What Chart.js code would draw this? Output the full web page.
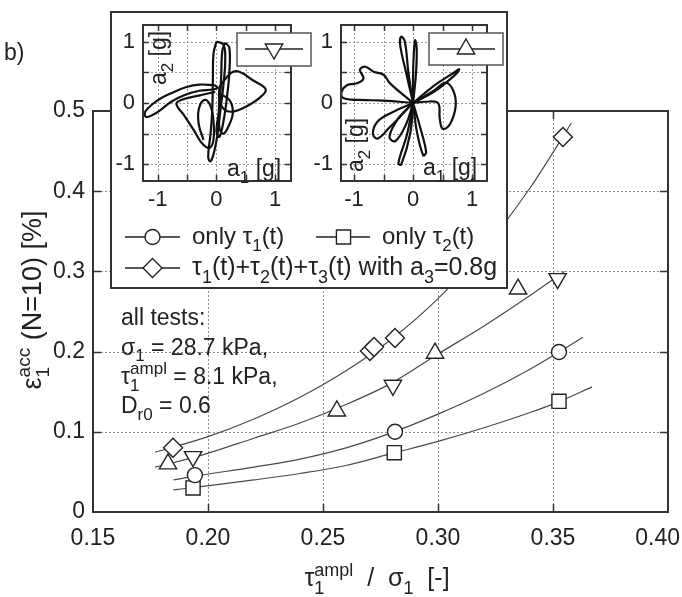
<!DOCTYPE html>
<html>
<head>
<meta charset="utf-8">
<script src="https://cdn.jsdelivr.net/npm/chart.js@4.4.1/dist/chart.umd.min.js"></script>
<style>
body { margin: 0; background: #fff; }
#wrap { position: relative; width: 682px; height: 597px; }
canvas { position: absolute; }
</style>
</head>
<body>
<div id="wrap">
<canvas id="main" width="682" height="597" style="left:0;top:0"></canvas>
<canvas id="in1" width="200" height="200" style="left:113px;top:14px"></canvas>
<canvas id="in2" width="200" height="200" style="left:313px;top:14px"></canvas>
</div>
<script>
// axes
const xTicks = [0.15, 0.20, 0.25, 0.30, 0.35, 0.40];
const xTickLabels = ['0.15', '0.20', '0.25', '0.30', '0.35', '0.40'];
const yTicks = [0, 0.1, 0.2, 0.3, 0.4, 0.5];
const yTickLabels = ['0', '0.1', '0.2', '0.3', '0.4', '0.5'];

// measured points
const circX = [0.1943, 0.2813, 0.3526];
const circY = [0.046, 0.100, 0.1995];
const sqX = [0.1935, 0.281, 0.3526];
const sqY = [0.030, 0.074, 0.138];
const diaX = [0.1848, 0.2704, 0.2722, 0.2813, 0.3543];
const diaY = [0.080, 0.2007, 0.2057, 0.217, 0.4676];
const upX = [0.1826, 0.256, 0.2987, 0.3348];
const upY = [0.060, 0.126, 0.198, 0.278];
const downX = [0.1935, 0.2804, 0.352];
const downY = [0.069, 0.158, 0.291];

// fitted curves
const circFitX = [0.185, 0.195, 0.22, 0.24, 0.26, 0.28, 0.30, 0.32, 0.34, 0.353, 0.363];
const circFitY = [0.040, 0.045, 0.056, 0.066, 0.080, 0.099, 0.122, 0.148, 0.178, 0.200, 0.218];
const sqFitX = [0.185, 0.195, 0.22, 0.24, 0.26, 0.28, 0.30, 0.32, 0.34, 0.353, 0.367];
const sqFitY = [0.0275, 0.031, 0.040, 0.048, 0.058, 0.073, 0.088, 0.105, 0.124, 0.138, 0.156];
const diaFitX = [0.177, 0.20, 0.22, 0.24, 0.26, 0.28, 0.30, 0.32, 0.34, 0.358];
const diaFitY = [0.0745, 0.094, 0.116, 0.143, 0.176, 0.216, 0.266, 0.328, 0.404, 0.485];
const triFitX = [0.177, 0.195, 0.22, 0.24, 0.26, 0.28, 0.30, 0.32, 0.34, 0.355];
const triFitY = [0.056, 0.069, 0.092, 0.111, 0.134, 0.161, 0.197, 0.232, 0.270, 0.300];

// inset axes
const insetTicks = [-1, -0.5, 0, 0.5, 1];
const insetTickLabels = ['-1', '', '0', '', '1'];

// inset traces a1/a2 [g], test with down triangle
const tracesDown = [
  [[-0.03,0.29],[-0.29,0.30],[-0.51,0.26],[-0.77,0.16],[-0.99,0.05],[-1.17,-0.09],[-1.22,-0.17],[-1.19,-0.23],[-0.99,-0.14],[-0.77,0.02],[-0.54,0.13],[-0.29,0.20],[-0.06,0.22],[0.02,0.25],[-0.03,0.29]],
  [[0.05,0.26],[0.25,0.49],[0.39,0.51],[0.62,0.37],[0.84,0.22],[0.73,0.08],[0.50,-0.06],[0.28,-0.14],[0.14,-0.11],[0.05,0.05],[0.05,0.26]],
  [[0.0,1.0],[0.12,0.95],[0.15,0.7],[0.12,0.3],[0.07,-0.1],[0.02,-0.5],[-0.04,-0.8],[-0.1,-0.95],[-0.14,-0.88],[-0.1,-0.5],[-0.07,-0.1],[-0.06,0.4],[-0.05,0.8],[0.0,1.0]],
  [[0.15,0.98],[0.22,0.9],[0.22,0.5],[0.18,0.1],[0.12,-0.3],[0.05,-0.55],[0.0,-0.45],[0.05,-0.1],[0.08,0.4],[0.1,0.85],[0.15,0.98]],
  [[-0.02,0.18],[-0.3,0.12],[-0.6,0.05],[-0.68,-0.02],[-0.55,-0.2],[-0.38,-0.45],[-0.25,-0.65],[-0.12,-0.73],[-0.05,-0.6],[-0.05,-0.3],[-0.1,-0.05],[-0.2,0.05],[-0.3,-0.1],[-0.3,-0.35],[-0.22,-0.6]],
  [[0.05,0.15],[0.22,0.05],[0.28,-0.15],[0.22,-0.35],[0.12,-0.5],[0.05,-0.4],[0.05,0.15]]
];
// inset traces, test with up triangle
const tracesUp = [
  [[0,0],[-0.39,0.32],[-0.5,0.46],[-0.67,0.51],[-0.81,0.59],[-0.9,0.54],[-0.84,0.4],[-0.95,0.32],[-1.12,0.29],[-1.21,0.18],[-1.18,0.08],[-0.9,0.05],[-0.5,0.04],[0,0]],
  [[0,0],[-0.12,0.5],[-0.22,0.95],[-0.2,1.08],[-0.14,1.0],[-0.08,0.5],[0,0]],
  [[0,0],[0.0,0.5],[0.03,1.02],[0.06,0.9],[0.05,0.5],[0,0]],
  [[0,0],[-0.1,-0.5],[-0.25,-0.98],[-0.2,-1.0],[-0.05,-0.5],[0,0]],
  [[0,0],[0.12,-0.4],[0.22,-0.8],[0.17,-0.85],[0.06,-0.45],[0,0]],
  [[0,0],[-0.35,-0.15],[-0.6,-0.3],[-0.68,-0.5],[-0.6,-0.58],[-0.4,-0.4],[-0.15,-0.15],[0,0]],
  [[0,0],[-0.25,-0.25],[-0.4,-0.55],[-0.3,-0.62],[-0.12,-0.35],[0,0]],
  [[0,0],[0.35,0.28],[0.7,0.5],[0.78,0.55],[0.7,0.45],[0.35,0.18],[0,0]],
  [[0,0],[0.35,0.2],[0.55,0.33],[0.68,0.2],[0.72,-0.05],[0.62,-0.35],[0.5,-0.42],[0.45,-0.25],[0.42,0.0],[0.2,0.02],[0,0]]
];

const FONT = '"Liberation Sans", Arial, Helvetica, sans-serif';
const INK = '#333';
const FS = 23;

// text with sub/superscripts; parts: {t, k:'sub'|'sup', up}
function drawRich(ctx, parts, x, y, size, align) {
  const small = Math.round(size * 0.72);
  let w = 0;
  const widths = parts.map(p => {
    ctx.font = (p.k ? small : size) + 'px ' + FONT;
    let pw = ctx.measureText(p.t).width;
    if (p.up) pw = Math.max(pw, ctx.measureText(p.up).width);
    w += pw;
    return pw;
  });
  let cx = align === 'center' ? x - w / 2 : x;
  ctx.textAlign = 'left';
  ctx.textBaseline = 'alphabetic';
  parts.forEach((p, i) => {
    ctx.font = (p.k ? small : size) + 'px ' + FONT;
    if (p.k === 'sub') {
      ctx.fillText(p.t, cx, y + size * 0.3);
      if (p.up) ctx.fillText(p.up, cx, y - size * 0.42);
    } else if (p.k === 'sup') {
      ctx.fillText(p.t, cx, y - size * 0.42);
    } else {
      ctx.fillText(p.t, cx, y);
    }
    cx += widths[i];
  });
}

function marker(ctx, style, r, rot, x, y) {
  ctx.fillStyle = '#fff';
  ctx.strokeStyle = '#222';
  ctx.lineWidth = 1.4;
  Chart.helpers.drawPoint(ctx, {pointStyle: style, radius: r, rotation: rot, borderWidth: 1.4}, x, y);
}

const pts = (xs, ys) => xs.map((x, i) => ({x: x, y: ys[i]}));
const markSet = (xs, ys, style, r, rot) => ({
  data: pts(xs, ys), showLine: false, pointStyle: style, pointRadius: r, pointHoverRadius: r,
  pointRotation: rot || 0, pointBackgroundColor: '#fff', pointBorderColor: '#222', pointBorderWidth: 1.4, order: 0
});
const fitSet = (xs, ys) => ({
  data: pts(xs, ys), showLine: true, pointRadius: 0, borderColor: '#4a4a4a', borderWidth: 1.2,
  cubicInterpolationMode: 'monotone', order: 1
});

const mainFrame = {
  id: 'mainFrame',
  beforeDatasetsDraw(chart) {
    const {ctx, chartArea: a, scales: {x, y}} = chart;
    ctx.save();
    ctx.strokeStyle = '#8c8c8c';
    ctx.lineWidth = 1;
    ctx.setLineDash([2, 2]);
    ctx.beginPath();
    xTicks.slice(1, -1).forEach(v => {
      const px = Math.round(x.getPixelForValue(v)) + 0.5;
      ctx.moveTo(px, a.top); ctx.lineTo(px, a.bottom);
    });
    yTicks.slice(1, -1).forEach(v => {
      const py = Math.round(y.getPixelForValue(v)) + 0.5;
      ctx.moveTo(a.left, py); ctx.lineTo(a.right, py);
    });
    ctx.stroke();
    ctx.setLineDash([]);
    ctx.strokeStyle = INK;
    ctx.lineWidth = 1.5;
    ctx.beginPath();
    xTicks.slice(1, -1).forEach(v => {
      const px = Math.round(x.getPixelForValue(v)) + 0.5;
      ctx.moveTo(px, a.bottom); ctx.lineTo(px, a.bottom - 8);
      ctx.moveTo(px, a.top); ctx.lineTo(px, a.top + 8);
    });
    yTicks.slice(1, -1).forEach(v => {
      const py = Math.round(y.getPixelForValue(v)) + 0.5;
      ctx.moveTo(a.left, py); ctx.lineTo(a.left + 8, py);
      ctx.moveTo(a.right, py); ctx.lineTo(a.right - 8, py);
    });
    ctx.stroke();
    ctx.lineWidth = 2;
    ctx.strokeRect(a.left, a.top, a.right - a.left, a.bottom - a.top);
    // last x label is pulled inside the page, as in the original
    ctx.fillStyle = '#222';
    ctx.font = FS + 'px ' + FONT;
    ctx.textAlign = 'right';
    ctx.textBaseline = 'middle';
    ctx.fillText(xTickLabels[xTickLabels.length - 1], 680, a.bottom + 13 + FS * 0.6);
    ctx.restore();
  },
  afterDraw(chart) {
    const ctx = chart.ctx;
    ctx.save();
    // inset box
    ctx.fillStyle = '#fff';
    ctx.fillRect(111, 12, 396, 276);
    ctx.strokeStyle = INK;
    ctx.lineWidth = 2;
    ctx.strokeRect(111, 12, 396, 276);
    // legend rows
    ctx.strokeStyle = '#222';
    ctx.lineWidth = 1.3;
    ctx.beginPath();
    ctx.moveTo(125, 237); ctx.lineTo(180, 237);
    ctx.moveTo(316, 237); ctx.lineTo(370, 237);
    ctx.moveTo(125, 268); ctx.lineTo(180, 268);
    ctx.stroke();
    marker(ctx, 'circle', 7.5, 0, 152.5, 237);
    marker(ctx, 'rect', 10, 0, 343.5, 237);
    marker(ctx, 'rectRot', 9.5, 0, 152.5, 268);
    ctx.fillStyle = '#222';
    drawRich(ctx, [{t: 'only τ'}, {t: '1', k: 'sub'}, {t: '(t)'}], 192, 244, 24);
    drawRich(ctx, [{t: 'only τ'}, {t: '2', k: 'sub'}, {t: '(t)'}], 382, 244, 24);
    drawRich(ctx, [{t: 'τ'}, {t: '1', k: 'sub'}, {t: '(t)+τ'}, {t: '2', k: 'sub'}, {t: '(t)+τ'}, {t: '3', k: 'sub'},
      {t: '(t) with a'}, {t: '3', k: 'sub'}, {t: '=0.8g'}], 192, 275, 25);
    // test conditions
    drawRich(ctx, [{t: 'all tests:'}], 121, 325, FS);
    drawRich(ctx, [{t: 'σ'}, {t: '1', k: 'sub'}, {t: ' = 28.7 kPa,'}], 121, 354.5, FS);
    drawRich(ctx, [{t: 'τ'}, {t: '1', k: 'sub', up: 'ampl'}, {t: ' = 8.1 kPa,'}], 121, 384, FS);
    drawRich(ctx, [{t: 'D'}, {t: 'r0', k: 'sub'}, {t: ' = 0.6'}], 121, 413, FS);
    // panel tag and axis titles
    drawRich(ctx, [{t: 'b)'}], 4, 60, FS);
    drawRich(ctx, [{t: 'τ'}, {t: '1', k: 'sub', up: 'ampl'}, {t: '  /  σ'}, {t: '1', k: 'sub'}, {t: '  [-]'}], 377, 586, 25, 'center');
    ctx.translate(41, 300);
    ctx.rotate(-Math.PI / 2);
    drawRich(ctx, [{t: 'ε'}, {t: '1', k: 'sub', up: 'acc'}, {t: ' (N=10) [%]'}], 0, 0, 27, 'center');
    ctx.restore();
  }
};

new Chart(document.getElementById('main'), {
  type: 'scatter',
  data: {
    datasets: [
      markSet(circX, circY, 'circle', 7.5),
      markSet(sqX, sqY, 'rect', 10),
      markSet(diaX, diaY, 'rectRot', 9.5),
      markSet(upX, upY, 'triangle', 10),
      markSet(downX, downY, 'triangle', 10, 180),
      fitSet(circFitX, circFitY),
      fitSet(sqFitX, sqFitY),
      fitSet(diaFitX, diaFitY),
      fitSet(triFitX, triFitY)
    ]
  },
  options: {
    responsive: false,
    animation: false,
    layout: {padding: {left: 0, right: 14, top: 111, bottom: 0}},
    plugins: {legend: {display: false}, tooltip: {enabled: false}},
    scales: {
      x: {
        type: 'linear', min: 0.15, max: 0.40,
        afterBuildTicks: s => { s.ticks = xTicks.map(v => ({value: v})); },
        afterFit: s => { s.height = 85; s.paddingLeft = 0; s.paddingRight = 0; },
        grid: {display: false, drawTicks: false}, border: {display: false},
        ticks: {
          callback: (v, i) => (i === xTickLabels.length - 1 ? '' : xTickLabels[i]),
          font: {family: FONT, size: FS}, color: '#222', padding: 13, maxRotation: 0, autoSkip: false
        }
      },
      y: {
        type: 'linear', min: 0, max: 0.5,
        afterBuildTicks: s => { s.ticks = yTicks.map(v => ({value: v})); },
        afterFit: s => { s.width = 93; s.paddingTop = 0; s.paddingBottom = 0; },
        grid: {display: false, drawTicks: false}, border: {display: false},
        ticks: {callback: (v, i) => yTickLabels[i], font: {family: FONT, size: FS}, color: '#222', padding: 8, autoSkip: false}
      }
    }
  },
  plugins: [mainFrame]
});

function insetChart(id, traces, xMin, xMax, yWidth, padRight, opt) {
  const plugin = {
    id: 'insetFrame',
    beforeDatasetsDraw(chart) {
      const {ctx, chartArea: a, scales: {x, y}} = chart;
      ctx.save();
      ctx.strokeStyle = '#9a9a9a';
      ctx.lineWidth = 1;
      ctx.setLineDash([2, 2]);
      ctx.beginPath();
      insetTicks.forEach(v => {
        const px = Math.round(x.getPixelForValue(v)) + 0.5;
        const py = Math.round(y.getPixelForValue(v)) + 0.5;
        ctx.moveTo(px, a.top); ctx.lineTo(px, a.bottom);
        ctx.moveTo(a.left, py); ctx.lineTo(a.right, py);
      });
      ctx.stroke();
      ctx.restore();
    },
    afterDatasetsDraw(chart) {
      const {ctx, chartArea: a, scales: {x, y}} = chart;
      ctx.save();
      ctx.strokeStyle = INK;
      ctx.lineWidth = 1.5;
      ctx.beginPath();
      insetTicks.forEach(v => {
        const px = Math.round(x.getPixelForValue(v)) + 0.5;
        const py = Math.round(y.getPixelForValue(v)) + 0.5;
        ctx.moveTo(px, a.bottom); ctx.lineTo(px, a.bottom - 6);
        ctx.moveTo(px, a.top); ctx.lineTo(px, a.top + 6);
        ctx.moveTo(a.left, py); ctx.lineTo(a.left + 6, py);
        ctx.moveTo(a.right, py); ctx.lineTo(a.right - 6, py);
      });
      ctx.stroke();
      ctx.lineWidth = 2;
      ctx.strokeRect(a.left, a.top, a.right - a.left, a.bottom - a.top);
      // small legend
      const b = opt.box;
      ctx.fillStyle = '#fff';
      ctx.fillRect(b[0], b[1], b[2], b[3]);
      ctx.strokeStyle = '#555';
      ctx.lineWidth = 1.5;
      ctx.strokeRect(b[0], b[1], b[2], b[3]);
      ctx.strokeStyle = '#222';
      ctx.lineWidth = 1.3;
      ctx.beginPath();
      ctx.moveTo(b[0] + 8, b[1] + 16); ctx.lineTo(b[0] + b[2] - 8, b[1] + 16);
      ctx.stroke();
      marker(ctx, 'triangle', 10, opt.rot, b[0] + b[2] / 2, b[1] + opt.my);
      // axis names
      ctx.fillStyle = '#222';
      drawRich(ctx, [{t: 'a'}, {t: '1', k: 'sub'}, {t: ' [g]'}], opt.a1[0], opt.a1[1], FS);
      ctx.translate(opt.a2[0], opt.a2[1]);
      ctx.rotate(-Math.PI / 2);
      drawRich(ctx, [{t: 'a'}, {t: '2', k: 'sub'}, {t: ' [g]'}], 0, 0, FS, 'center');
      ctx.restore();
    }
  };
  const tickOpts = {callback: (v, i) => insetTickLabels[i], font: {family: FONT, size: 22}, color: '#222', autoSkip: false, maxRotation: 0};
  return new Chart(document.getElementById(id), {
    type: 'scatter',
    data: {
      datasets: traces.map(t => ({
        data: t.map(p => ({x: p[0], y: p[1]})), showLine: true, pointRadius: 0,
        borderColor: '#111', borderWidth: 2.2, tension: 0.4
      }))
    },
    options: {
      responsive: false,
      animation: false,
      layout: {padding: {left: 0, right: padRight, top: 11, bottom: 0}},
      plugins: {legend: {display: false}, tooltip: {enabled: false}},
      scales: {
        x: {
          type: 'linear', min: xMin, max: xMax,
          afterBuildTicks: s => { s.ticks = insetTicks.map(v => ({value: v})); },
          afterFit: s => { s.height = 33; s.paddingLeft = 0; s.paddingRight = 0; },
          grid: {display: false, drawTicks: false}, border: {display: false},
          ticks: Object.assign({padding: 6}, tickOpts)
        },
        y: {
          type: 'linear', min: -1.27, max: 1.27,
          afterBuildTicks: s => { s.ticks = insetTicks.map(v => ({value: v})); },
          afterFit: s => { s.width = yWidth; s.paddingTop = 0; s.paddingBottom = 0; },
          grid: {display: false, drawTicks: false}, border: {display: false},
          ticks: Object.assign({padding: 8}, tickOpts)
        }
      }
    },
    plugins: [plugin]
  });
}

insetChart('in1', tracesDown, -1.25, 1.27, 30, 22, {box: [124, 19, 74, 33], rot: 180, my: 16, a1: [114, 162], a2: [53, 44]});
insetChart('in2', tracesUp, -1.22, 1.25, 28, 26, {box: [116, 19, 74, 32], rot: 0, my: 16, a1: [110, 161], a2: [50, 131]});
</script>
</body>
</html>
